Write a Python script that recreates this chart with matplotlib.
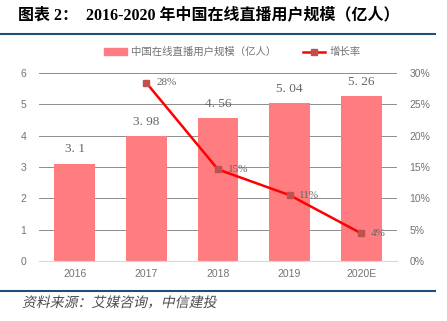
import matplotlib
matplotlib.use('Agg')
import numpy as np
import matplotlib.pyplot as plt
from matplotlib.lines import Line2D
from matplotlib.patches import Patch, PathPatch
from matplotlib.textpath import TextPath
from matplotlib.font_manager import FontProperties
from matplotlib.transforms import Affine2D

plt.rcParams['font.family'] = ['Liberation Sans', 'Noto Sans CJK SC', 'DejaVu Sans']

years = ['2016', '2017', '2018', '2019', '2020E']
users = [3.1, 3.98, 4.56, 5.04, 5.26]
user_labels = ['3. 1', '3. 98', '4. 56', '5. 04', '5. 26']
growth = [None, 28.4, 14.6, 10.5, 4.4]
growth_labels = ['', '28%', '15%', '11%', '4%']

bar_color = '#FF7C80'
line_color = '#FF0000'
marker_color = '#C0504D'
text_gray = '#666666'
rule_blue = '#1F4E79'

fig = plt.figure(figsize=(4.47, 3.21), dpi=100)
ax = fig.add_axes([0.0872, 0.187, 0.801, 0.586])
ax2 = ax.twinx()

x = np.arange(len(years))
ax.bar(x, users, width=0.57, color=bar_color, zorder=2)
for xi, v, lab in zip(x, users, user_labels):
    ax.annotate(lab, (xi, v), xytext=(0, 6), textcoords='offset points',
                ha='center', va='bottom', fontsize=9.5, color=text_gray,
                family=['Liberation Serif'])

ax.set_xlim(-0.5, len(years) - 0.5)
ax.set_ylim(0, 6)
ax.set_yticks(range(0, 7))
ax.set_xticks(x)
ax.set_xticklabels(years)
ax.yaxis.grid(True, color='#8C8C8C', lw=0.7, zorder=0)
ax.set_axisbelow(True)
ax.tick_params(length=0, labelsize=7.5, colors='#737373', pad=9)
ax.tick_params(axis='x', pad=6)
for s in ['top', 'left', 'right']:
    ax.spines[s].set_visible(False)
ax.spines['bottom'].set_color('#D9D9D9')

gx = [xi for xi, g in zip(x, growth) if g is not None]
gy = [g for g in growth if g is not None]
ax2.plot(gx, gy, color=line_color, lw=1.8, marker='s', markersize=5,
         markerfacecolor=marker_color, markeredgecolor=marker_color, zorder=3)
for xi, g, lab in zip(x, growth, growth_labels):
    if g is None:
        continue
    ax2.annotate(lab, (xi, g), xytext=(7, 0), textcoords='offset points',
                 ha='left', va='center', fontsize=8, color=text_gray,
                 family=['Liberation Serif'])
ax2.set_ylim(0, 30)
ax2.set_yticks(range(0, 31, 5))
ax2.set_yticklabels([f'{v}%' for v in range(0, 31, 5)])
ax2.tick_params(length=0, labelsize=7.5, colors='#737373', pad=9)
for s in ['top', 'left', 'right', 'bottom']:
    ax2.spines[s].set_visible(False)

handles = [Patch(color=bar_color),
           Line2D([0], [0], color=line_color, lw=1.8, marker='s', markersize=5,
                  markerfacecolor=marker_color, markeredgecolor=marker_color)]
fig.legend(handles, ['中国在线直播用户规模（亿人）', '增长率'],
           loc='center', bbox_to_anchor=(0.52, 0.838), ncol=2, frameon=False,
           fontsize=7.5, labelcolor='#737373', handlelength=2.2,
           handleheight=0.6, columnspacing=2.5, handletextpad=0.4)

fig.text(0.04, 0.953, '图表 2：  2016-2020 年中国在线直播用户规模（亿人）',
         fontsize=11.5, fontweight='bold', va='center', ha='left',
         family=['Liberation Serif', 'Noto Sans CJK SC'])
fig.add_artist(Line2D([0, 0.973], [0.894, 0.894], color=rule_blue, lw=1.5))
fig.add_artist(Line2D([0, 0.973], [0.093, 0.093], color=rule_blue, lw=1.5))

# slanted source note (CJK fonts have no italic face)
src = TextPath((0, 0), '资料来源：艾媒咨询，中信建投', size=10,
               prop=FontProperties(family='Noto Sans CJK SC'))
tr = (Affine2D().scale(1 / 72).skew_deg(12, 0).translate(22 / 100, 14 / 100)
      + fig.dpi_scale_trans)
fig.add_artist(PathPatch(src, transform=tr, color='#4D4D4D', lw=0))

fig.savefig('out.png', dpi=100)
